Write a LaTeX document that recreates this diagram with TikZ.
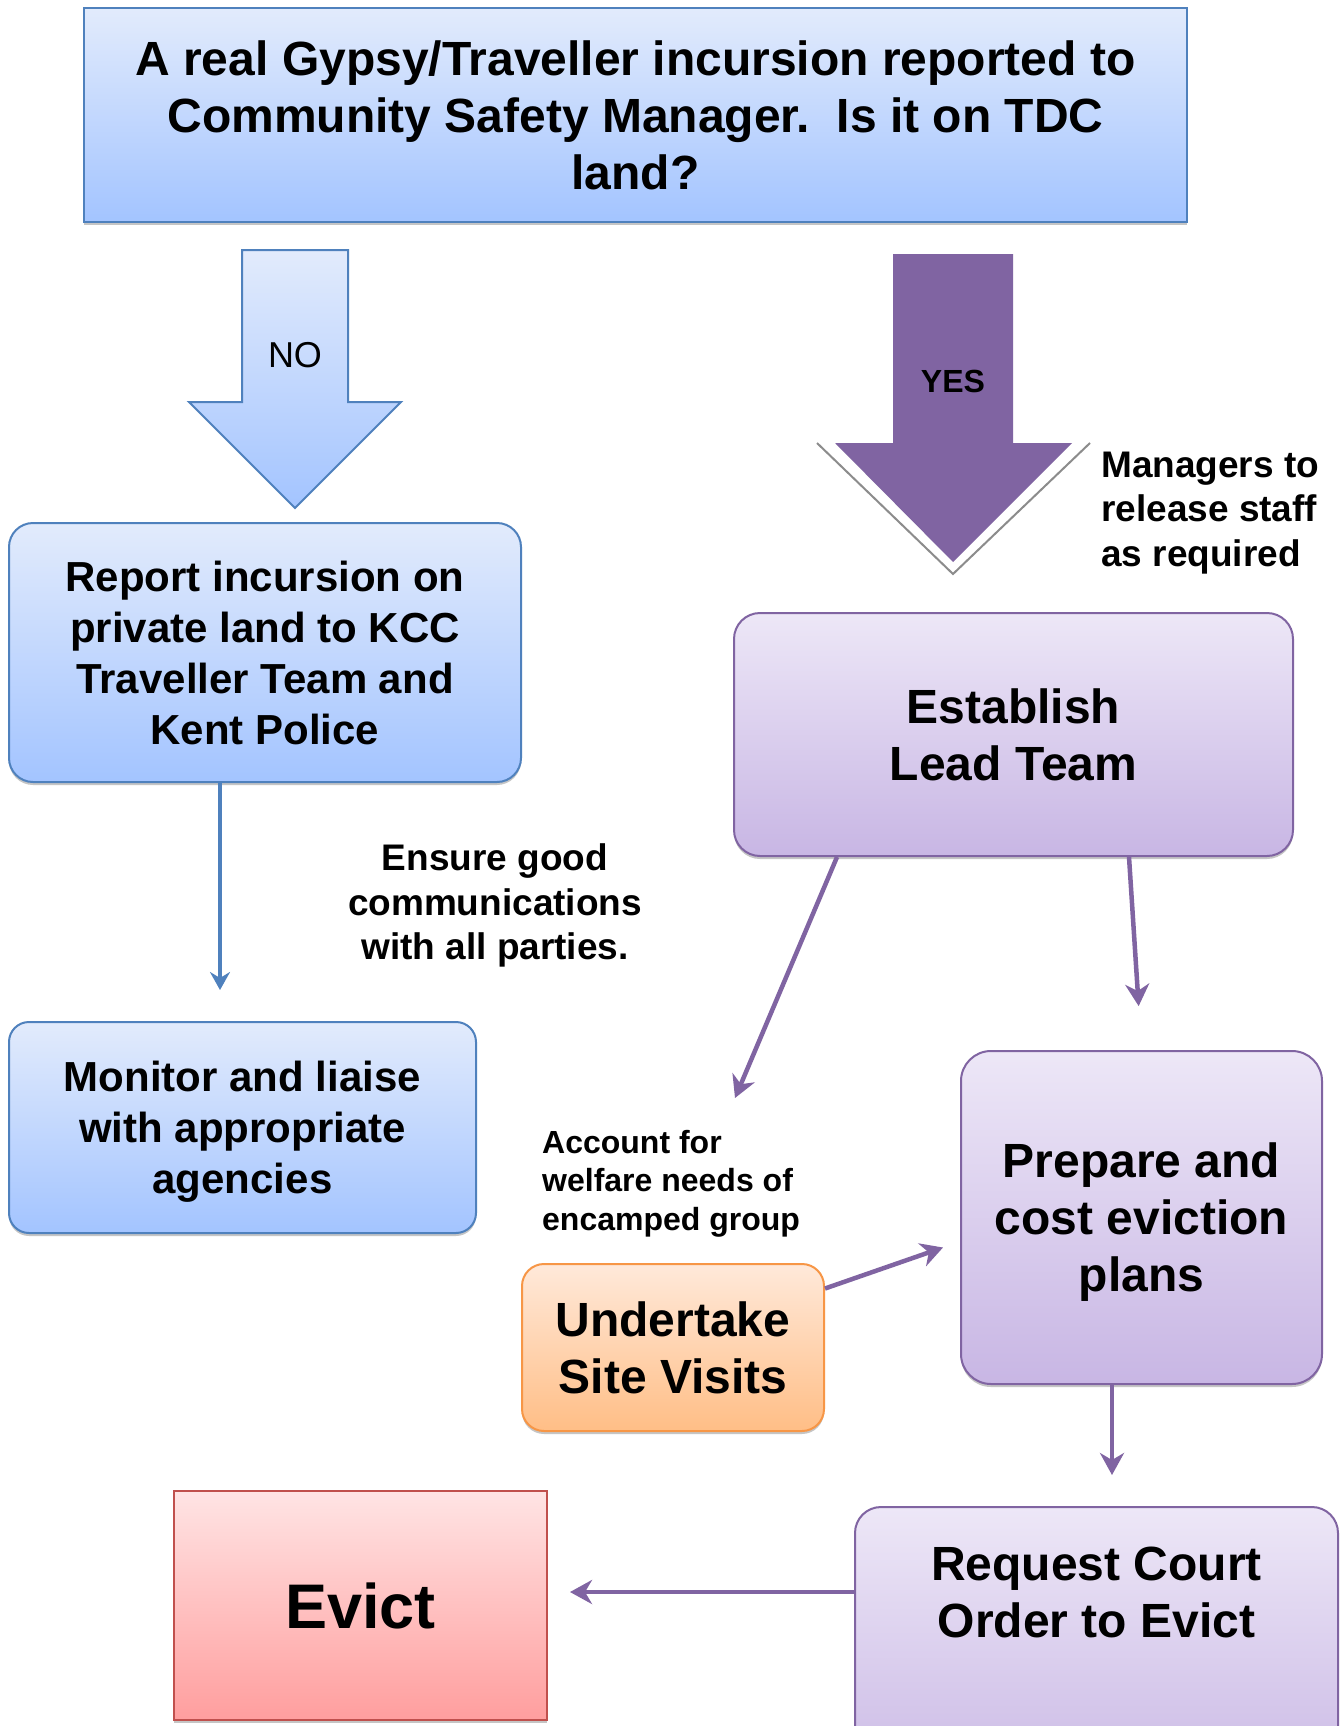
\documentclass[tikz,border=0pt]{standalone}
\usepackage{fontspec}
\setmainfont{Liberation Sans}
\usepackage{tikz}
\usetikzlibrary{positioning,arrows.meta,calc,shadows}

\definecolor{tdcblue}{RGB}{79,129,189}
\definecolor{bluetop}{RGB}{226,235,252}
\definecolor{bluebottom}{RGB}{163,196,255}
\definecolor{tdcpurple}{RGB}{128,100,162}
\definecolor{purpletop}{RGB}{237,231,247}
\definecolor{purplebottom}{RGB}{200,182,228}
\definecolor{tdcorange}{RGB}{247,150,70}
\definecolor{orangetop}{RGB}{255,233,218}
\definecolor{orangebottom}{RGB}{255,190,134}
\definecolor{tdcred}{RGB}{192,80,77}
\definecolor{redtop}{RGB}{255,228,228}
\definecolor{redbottom}{RGB}{255,158,158}

\begin{document}
\begin{tikzpicture}[
    x=1pt, y=-1pt,
    flowbox/.style={draw, line width=2pt, align=center, inner sep=0pt, text depth=0pt, font=\bfseries\fontsize{48}{57}\selectfont, drop shadow={shadow xshift=0pt, shadow yshift=-3pt, fill=black!45}},
    titlebox/.style={flowbox, draw=tdcblue, line width=2.5pt, top color=bluetop, bottom color=bluebottom},
    bluebox/.style={flowbox, draw=tdcblue, top color=bluetop, bottom color=bluebottom, rounded corners=24pt, font=\bfseries\fontsize{42}{51}\selectfont},
    purplebox/.style={flowbox, draw=tdcpurple, top color=purpletop, bottom color=purplebottom, rounded corners=26pt},
    orangebox/.style={flowbox, draw=tdcorange, top color=orangetop, bottom color=orangebottom, rounded corners=22pt},
    redbox/.style={flowbox, draw=tdcred, top color=redtop, bottom color=redbottom, font=\bfseries\fontsize{63}{75}\selectfont},
    notetext/.style={inner sep=0pt, text depth=0pt, font=\bfseries\fontsize{37}{44.5}\selectfont},
    bluearrow/.style={draw=tdcblue, line width=3.5pt, -{Stealth[length=18pt, width=20pt, inset=6pt]}},
    purplearrow/.style={draw=tdcpurple, line width=4.5pt, -{Stealth[length=22pt, width=24pt, inset=7pt]}}
]
\clip (0,0) rectangle (1341,1726);
\fill[white] (0,0) rectangle (1341,1726);

\node[titlebox, minimum width=1103pt, minimum height=214pt] (incursion) at (635.5,115)
    {A real Gypsy/Traveller incursion reported to\\Community Safety Manager.\ \ Is it on TDC\\land?};

% decision arrows
\draw[draw=tdcblue, line width=2pt, top color=bluetop, bottom color=bluebottom]
    (242,250) -- (348,250) -- (348,402) -- (401,402) -- (295,508) -- (189,402) -- (242,402) -- cycle;
\node[font=\fontsize{36}{43}\selectfont] (no) at (295,355) {NO};

\draw[black!45, line width=2pt] (817,443) -- (953,574) -- (1090,443);
\fill[tdcpurple] (893,254) -- (1013,254) -- (1013,443) -- (1072,443) -- (953,562) -- (835,443) -- (893,443) -- cycle;
\node[font=\bfseries\fontsize{32}{38}\selectfont] (yes) at (953,381) {YES};

\node[bluebox, minimum width=512pt, minimum height=259pt] (report) at (265,652.5)
    {Report incursion on\\private land to KCC\\Traveller Team and\\Kent Police};
\node[notetext, anchor=west, align=left] (managers) at (1101,509) {Managers to\\release staff\\as required};
\node[purplebox, minimum width=559pt, minimum height=243pt] (establish) at (1013.5,734.5) {Establish\\Lead Team};

\node[notetext, align=center] (ensure) at (495,902) {Ensure good\\communications\\with all parties.};
\node[bluebox, rounded corners=20pt, minimum width=467pt, minimum height=211pt] (monitor) at (242.5,1127.5)
    {Monitor and liaise\\with appropriate\\agencies};

\node[notetext, font=\bfseries\fontsize{32}{38.5}\selectfont, anchor=west, align=left] (welfare) at (542,1180)
    {Account for\\welfare needs of\\encamped group};
\node[purplebox, rounded corners=30pt, minimum width=361pt, minimum height=333pt] (prepare) at (1141.5,1217.5)
    {Prepare and\\cost eviction\\plans};
\node[orangebox, minimum width=302pt, minimum height=167pt] (visits) at (673,1347.5) {Undertake\\Site Visits};

\node[purplebox, minimum width=483pt, minimum height=300pt, anchor=north] (request) at (1096.5,1506) {};
\node[font=\bfseries\fontsize{48}{57}\selectfont, align=center] (requesttext) at (1096.5,1592) {Request Court\\Order to Evict};
\node[redbox, minimum width=373pt, minimum height=229pt] (evict) at (360.5,1605.5) {Evict};

% connectors
\coordinate (welfaretip) at (735,1098);
\draw[bluearrow, shorten >=31pt] ([xshift=-45pt]report.south) -- ([xshift=-22.5pt]monitor.north);
\draw[purplearrow] ([xshift=-176.5pt]establish.south) -- (welfaretip);
\draw[purplearrow, shorten >=44pt] ([xshift=115.5pt]establish.south) -- (prepare.north);
\draw[purplearrow] ([yshift=59pt]visits.east) -- ($(prepare.west)+(-17,30)$);
\draw[purplearrow, shorten >=31pt] ([xshift=-29.5pt]prepare.south) -- ([xshift=15.5pt]request.north);
\draw[purplearrow, shorten >=22pt] (request.west |- requesttext) -- (evict.east |- requesttext);
\end{tikzpicture}
\end{document}
